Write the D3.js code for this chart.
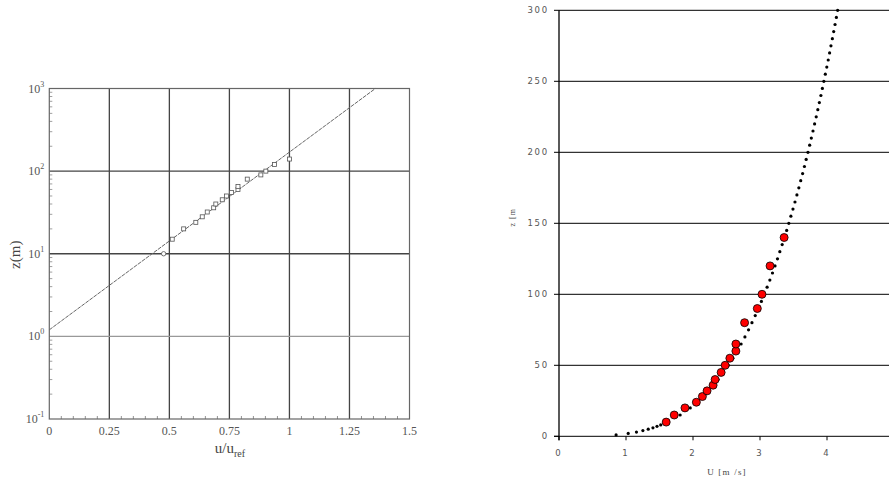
<!DOCTYPE html>
<html>
<head>
<meta charset="utf-8">
<script src="https://cdn.jsdelivr.net/npm/d3@7"></script>
<style>
  html, body { margin: 0; padding: 0; background: #fff; }
  svg { display: block; }
</style>
</head>
<body>
<script>
// Measured wind profile: height (m) and mean speed (m/s)
const heightsM = [10, 15, 20, 24, 28, 32, 36, 40, 45, 50, 55, 60, 65, 80, 90, 100, 120, 140];
const speedsMs = [1.60, 1.72, 1.88, 2.05, 2.14, 2.21, 2.30, 2.33, 2.42, 2.48, 2.55, 2.64, 2.64, 2.77, 2.96, 3.03, 3.15, 3.36];

// Fitted power-law profile sampled along height (m) and speed (m/s)
const profileZ = [1, 2, 3, 4, 5, 6, 7, 8, 9, 10, 15, 20, 25, 30, 35, 40, 45, 50, 55, 60, 65, 70, 75, 80, 85, 90, 95, 100,
  105, 110, 115, 120, 125, 130, 135, 140, 145, 150, 155, 160, 165, 170, 175, 180, 185, 190, 195, 200,
  205, 210, 215, 220, 225, 230, 235, 240, 245, 250, 255, 260, 265, 270, 275, 280, 285, 290, 295, 300];
const profileU = [0.852, 1.033, 1.156, 1.252, 1.332, 1.402, 1.463, 1.518, 1.569, 1.616, 1.808, 1.959, 2.084, 2.193, 2.289, 2.375, 2.454, 2.527, 2.595, 2.659, 2.718, 2.775, 2.829, 2.880, 2.929, 2.976, 3.021, 3.064,
  3.106, 3.147, 3.186, 3.224, 3.261, 3.296, 3.331, 3.365, 3.398, 3.430, 3.461, 3.492, 3.522, 3.551, 3.580, 3.608, 3.636, 3.663, 3.689, 3.716,
  3.741, 3.766, 3.791, 3.815, 3.839, 3.863, 3.886, 3.909, 3.931, 3.953, 3.975, 3.997, 4.018, 4.039, 4.059, 4.080, 4.100, 4.120, 4.140, 4.159];

// Log-law fit line in normalised coordinates (u/uref, z)
const fitU = [0, 1.358];
const fitZ = [1.2, 1000];

// Tick values
const leftXTicks = [0, 0.25, 0.5, 0.75, 1, 1.25, 1.5];
const leftXTickLabels = ["0", "0.25", "0.5", "0.75", "1", "1.25", "1.5"];
const leftYExponents = [-1, 0, 1, 2, 3];
const rightXTicks = [0, 1, 2, 3, 4];
const rightYTicks = [0, 50, 100, 150, 200, 250, 300];

const W = 889, H = 486;
const svg = d3.select("body").append("svg").attr("width", W).attr("height", H);

// ---------------- Left panel: normalised profile on log height ----------------
const uRef = speedsMs[speedsMs.length - 1];
const lx = d3.scaleLinear().domain([0, 1.5]).range([49.3, 409.5]);
const ly = d3.scaleLog().domain([0.1, 1000]).range([419, 88.5]);
const serif = "'Liberation Serif', 'DejaVu Serif', serif";
const left = svg.append("g");

// minor ticks on the bottom axis (every 0.05)
const minorX = d3.range(0, 1.5001, 0.05).filter(v => Math.abs(v / 0.25 - Math.round(v / 0.25)) > 1e-6);
left.append("g").selectAll("line").data(minorX).join("line")
  .attr("x1", d => lx(d)).attr("x2", d => lx(d))
  .attr("y1", ly(0.1)).attr("y2", ly(0.1) - 3)
  .attr("stroke", "#777").attr("stroke-width", 0.8);

// minor log ticks on the left axis
const minorY = [];
leftYExponents.slice(0, -1).forEach(e => { for (let k = 2; k <= 9; k++) minorY.push(k * Math.pow(10, e)); });
left.append("g").selectAll("line").data(minorY).join("line")
  .attr("x1", lx(0)).attr("x2", lx(0) + 3)
  .attr("y1", d => ly(d)).attr("y2", d => ly(d))
  .attr("stroke", "#888").attr("stroke-width", 0.8);

// vertical grid
left.append("g").selectAll("line").data(leftXTicks.slice(1, -1)).join("line")
  .attr("x1", d => lx(d)).attr("x2", d => lx(d))
  .attr("y1", ly(1000)).attr("y2", ly(0.1))
  .attr("stroke", "#444").attr("stroke-width", 1.3);

// horizontal grid
left.append("g").selectAll("line").data([0, 1, 2]).join("line")
  .attr("x1", lx(0)).attr("x2", lx(1.5))
  .attr("y1", e => ly(Math.pow(10, e))).attr("y2", e => ly(Math.pow(10, e)))
  .attr("stroke", e => e === 0 ? "#999" : "#444").attr("stroke-width", e => e === 0 ? 1.1 : 1.3);

// frame
left.append("rect")
  .attr("x", lx(0)).attr("y", ly(1000))
  .attr("width", lx(1.5) - lx(0)).attr("height", ly(0.1) - ly(1000))
  .attr("fill", "none").attr("stroke", "#666").attr("stroke-width", 1.2);

// fit line
const fitPts = fitU.map((u, i) => [u, fitZ[i]]);
left.append("path")
  .attr("d", d3.line().x(d => lx(d[0])).y(d => ly(d[1]))(fitPts))
  .attr("fill", "none").attr("stroke", "#666").attr("stroke-width", 1)
  .attr("stroke-dasharray", "4,1");

// measured points
const normPts = heightsM.map((z, i) => ({ z, u: speedsMs[i] / uRef, i }));
left.append("g").selectAll("rect").data(normPts.filter(d => d.i !== 0)).join("rect")
  .attr("x", d => lx(d.u) - 2).attr("y", d => ly(d.z) - 2)
  .attr("width", 4).attr("height", 4)
  .attr("fill", "#fff").attr("stroke", "#555").attr("stroke-width", 0.8);
left.append("g").selectAll("circle").data(normPts.filter(d => d.i === 0)).join("circle")
  .attr("cx", d => lx(d.u)).attr("cy", d => ly(d.z)).attr("r", 2.2)
  .attr("fill", "#fff").attr("stroke", "#555").attr("stroke-width", 0.8);

// x tick labels
left.append("g").selectAll("text").data(leftXTicks).join("text")
  .attr("x", d => lx(d)).attr("y", ly(0.1) + 16)
  .attr("text-anchor", "middle").attr("font-family", serif).attr("font-size", 12)
  .attr("fill", "#555").text((d, i) => leftXTickLabels[i]);

// y tick labels 10^n
const yl = left.append("g").selectAll("text").data(leftYExponents).join("text")
  .attr("x", lx(0) - 5).attr("y", e => ly(Math.pow(10, e)) + 4)
  .attr("text-anchor", "end").attr("font-family", serif).attr("font-size", 12).attr("fill", "#555");
yl.append("tspan").text("10");
yl.append("tspan").attr("font-size", 8).attr("dy", -6).text(e => e);

// axis titles
left.append("text")
  .attr("transform", `translate(20,${ly(10) + 1}) rotate(-90)`)
  .attr("text-anchor", "middle").attr("font-family", serif).attr("font-size", 15)
  .attr("fill", "#444").text("z(m)");
const xt = left.append("text")
  .attr("x", 230).attr("y", 453)
  .attr("text-anchor", "middle").attr("font-family", serif).attr("font-size", 15).attr("fill", "#444");
xt.append("tspan").text("u/u");
xt.append("tspan").attr("font-size", 10).attr("dy", 4).text("ref");

// ---------------- Right panel: dimensional profile ----------------
const rx = d3.scaleLinear().domain([0, 4]).range([559, 827]);
const ry = d3.scaleLinear().domain([0, 300]).range([436.3, 10.3]);
const sans = "'DejaVu Sans', sans-serif";
const right = svg.append("g");

// horizontal grid
right.append("g").selectAll("line").data(rightYTicks.slice(1)).join("line")
  .attr("x1", rx(0)).attr("x2", W)
  .attr("y1", d => ry(d)).attr("y2", d => ry(d))
  .attr("stroke", "#000").attr("stroke-width", 1);

// axes
right.append("line").attr("x1", rx(0) - 5).attr("x2", W)
  .attr("y1", ry(0)).attr("y2", ry(0)).attr("stroke", "#000").attr("stroke-width", 1);
right.append("line").attr("x1", rx(0)).attr("x2", rx(0))
  .attr("y1", ry(300)).attr("y2", ry(0) + 4).attr("stroke", "#000").attr("stroke-width", 1.3);
right.append("g").selectAll("line").data(rightYTicks).join("line")
  .attr("x1", rx(0) - 5).attr("x2", rx(0))
  .attr("y1", d => ry(d)).attr("y2", d => ry(d)).attr("stroke", "#000");
right.append("g").selectAll("line").data(rightXTicks).join("line")
  .attr("x1", d => rx(d)).attr("x2", d => rx(d))
  .attr("y1", ry(0)).attr("y2", ry(0) + 4).attr("stroke", "#000");

// tick labels
right.append("g").selectAll("text").data(rightYTicks).join("text")
  .attr("x", rx(0) - 10).attr("y", d => ry(d) + 3)
  .attr("text-anchor", "end").attr("font-family", sans).attr("font-size", 8.5)
  .attr("letter-spacing", 1.8).attr("fill", "#555").text(d => d);
right.append("g").selectAll("text").data(rightXTicks).join("text")
  .attr("x", d => rx(d) - 1).attr("y", ry(0) + 20)
  .attr("text-anchor", "middle").attr("font-family", sans).attr("font-size", 8.5)
  .attr("fill", "#555").text(d => d);

// axis titles
right.append("text")
  .attr("x", 727).attr("y", 475)
  .attr("text-anchor", "middle").attr("font-family", serif).attr("font-size", 9)
  .attr("letter-spacing", 1.2).attr("fill", "#444").text("U  [m /s]");
right.append("text")
  .attr("transform", `translate(515,${ry(150) - 6}) rotate(-90)`)
  .attr("text-anchor", "middle").attr("font-family", serif).attr("font-size", 8)
  .attr("letter-spacing", 1).attr("fill", "#444").text("z [m");

// fitted profile as dots
const prof = profileZ.map((z, i) => ({ z, u: profileU[i] }));
right.append("g").selectAll("circle").data(prof).join("circle")
  .attr("cx", d => rx(d.u)).attr("cy", d => ry(d.z)).attr("r", 1.6).attr("fill", "#000");

// measured points
const meas = heightsM.map((z, i) => ({ z, u: speedsMs[i] }));
right.append("g").selectAll("circle").data(meas).join("circle")
  .attr("cx", d => rx(d.u)).attr("cy", d => ry(d.z)).attr("r", 4)
  .attr("fill", "#ff0000").attr("stroke", "#000").attr("stroke-width", 0.8);
</script>
</body>
</html>
